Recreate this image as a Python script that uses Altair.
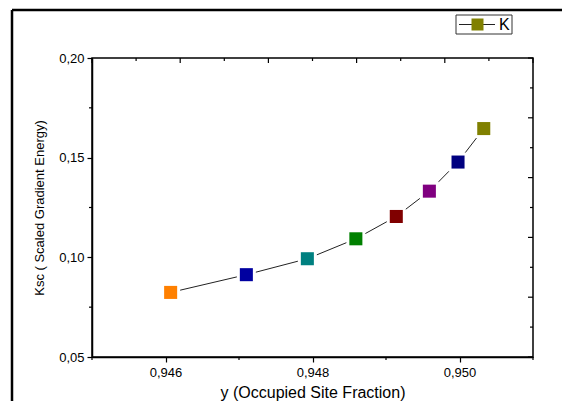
import altair as alt
import pandas as pd

# ---- data ----
y_frac = [0.94607, 0.94710, 0.94793, 0.94859, 0.94914, 0.94959, 0.94998, 0.95033]
ksc = [0.0824, 0.0913, 0.0993, 0.1093, 0.1205, 0.1332, 0.1478, 0.1646]
point_colors = ["#FF8000", "#0000A0", "#008080", "#008000", "#800000", "#800080", "#000080", "#808000"]
point_ids = [f"p{i}" for i in range(len(y_frac))]

x_domain = [0.945, 0.951]
y_domain = [0.05, 0.20]
x_major = [0.946, 0.948, 0.950]
x_minor = [0.945, 0.947, 0.949, 0.951]
y_major = [0.05, 0.10, 0.15, 0.20]
y_minor = [0.075, 0.125, 0.175]
top_ticks = [0.945 + 0.0006 * k for k in range(11)]
right_ticks = [0.05 + 0.015 * k for k in range(11)]

legend_label = "K"
legend_color = "#808000"

W, H = 441, 299
PAD_L, PAD_T = 92, 58
FONT = "Liberation Sans"

df = pd.DataFrame({"x": y_frac, "y": ksc, "id": point_ids})

xs = alt.Scale(domain=x_domain, nice=False, zero=False)
ys = alt.Scale(domain=y_domain, nice=False, zero=False)

x_axis = alt.Axis(
    values=x_major, grid=False, tickSize=5, tickColor="black", tickWidth=1.2,
    labelExpr="replace(format(datum.value, '.3f'), '.', ',')",
    labelFont=FONT, labelFontSize=13, labelColor="black", labelPadding=4,
    title="y (Occupied Site Fraction)", titleFont=FONT, titleFontSize=16,
    titleFontWeight="normal", titleColor="black", titlePadding=5,
    domainColor="black", domainWidth=1.5,
)
y_axis = alt.Axis(
    values=y_major, grid=False, tickSize=5, tickColor="black", tickWidth=1.2,
    labelExpr="replace(format(datum.value, '.2f'), '.', ',')",
    labelFont=FONT, labelFontSize=13, labelColor="black", labelPadding=3,
    title="Ksc ( Scaled Gradient Energy)", titleFont=FONT, titleFontSize=13,
    titleFontWeight="normal", titleColor="black", titlePadding=12,
    domainColor="black", domainWidth=1.5,
)

def X(f="x:Q"):
    return alt.X(f, scale=xs, axis=x_axis)

def Y(f="y:Q"):
    return alt.Y(f, scale=ys, axis=y_axis)

line = alt.Chart(df).mark_line(color="#222222", strokeWidth=1).encode(
    x=X(), y=Y(), order="x:Q",
)
gaps = alt.Chart(df).mark_point(shape="square", filled=True, color="white", opacity=1, size=361).encode(
    x=X(), y=Y(),
)
points = alt.Chart(df).mark_point(shape="square", filled=True, opacity=1, size=170).encode(
    x=X(), y=Y(),
    color=alt.Color("id:N", scale=alt.Scale(domain=point_ids, range=point_colors), legend=None),
)

# ---- extra ticks (top / right axes and minor ticks) ----
top_df = pd.DataFrame({"x": top_ticks, "major": [k % 2 == 0 for k in range(11)]})
right_df = pd.DataFrame({"y": right_ticks, "major": [k % 2 == 0 for k in range(11)]})
xmin_df = pd.DataFrame({"x": x_minor})
ymin_df = pd.DataFrame({"y": y_minor})

top_major = alt.Chart(top_df).transform_filter("datum.major").mark_rule(color="black", strokeWidth=1.2).encode(
    x=X(), y=alt.value(0), y2=alt.value(5))
top_minor = alt.Chart(top_df).transform_filter("!datum.major").mark_rule(color="black", strokeWidth=1.2).encode(
    x=X(), y=alt.value(0), y2=alt.value(3))
right_major = alt.Chart(right_df).transform_filter("datum.major").mark_rule(color="black", strokeWidth=1.2).encode(
    y=Y(), x=alt.value(W), x2=alt.value(W - 5))
right_minor = alt.Chart(right_df).transform_filter("!datum.major").mark_rule(color="black", strokeWidth=1.2).encode(
    y=Y(), x=alt.value(W), x2=alt.value(W - 3))
bottom_minor = alt.Chart(xmin_df).mark_rule(color="black", strokeWidth=1.2).encode(
    x=X(), y=alt.value(H), y2=alt.value(H + 3))
left_minor = alt.Chart(ymin_df).mark_rule(color="black", strokeWidth=1.2).encode(
    y=Y(), x=alt.value(0), x2=alt.value(-3))

# ---- outer frame and legend (decoration) ----
one = pd.DataFrame({"d": [0]})
frame_top = alt.Chart(one).mark_rule(color="black", strokeWidth=2.5).encode(
    x=alt.value(12 - PAD_L), x2=alt.value(562 - PAD_L + 5), y=alt.value(10 - PAD_T))
frame_left = alt.Chart(one).mark_rule(color="black", strokeWidth=2.5).encode(
    x=alt.value(12 - PAD_L), y=alt.value(10 - PAD_T), y2=alt.value(401 - PAD_T + 5))
leg_box = alt.Chart(one).mark_rect(fill="white", stroke="#333333", strokeWidth=1).encode(
    x=alt.value(456 - PAD_L), x2=alt.value(512 - PAD_L), y=alt.value(15 - PAD_T), y2=alt.value(34 - PAD_T))
leg_line = alt.Chart(one).mark_rule(color="#222222", strokeWidth=1).encode(
    x=alt.value(459 - PAD_L), x2=alt.value(495 - PAD_L), y=alt.value(24.5 - PAD_T))
leg_sq = alt.Chart(one).mark_point(shape="square", filled=True, opacity=1, color=legend_color, size=144).encode(
    x=alt.value(477.5 - PAD_L), y=alt.value(24.5 - PAD_T))
leg_txt = alt.Chart(one).mark_text(text=legend_label, align="left", baseline="middle", font=FONT,
                                   fontSize=16, color="black").encode(
    x=alt.value(499 - PAD_L), y=alt.value(25 - PAD_T))

chart = alt.layer(
    line, gaps, points,
    top_major, top_minor, right_major, right_minor, bottom_minor, left_minor,
    frame_top, frame_left, leg_box, leg_line, leg_sq, leg_txt,
).properties(
    width=W, height=H,
    autosize=alt.AutoSizeParams(type="none"),
    padding={"left": PAD_L, "top": PAD_T, "right": 562 - PAD_L - W, "bottom": 401 - PAD_T - H},
    background="white",
).configure_view(stroke="black", strokeWidth=1.5)

chart.save("out.html", embed_options={"renderer": "svg", "actions": False})
